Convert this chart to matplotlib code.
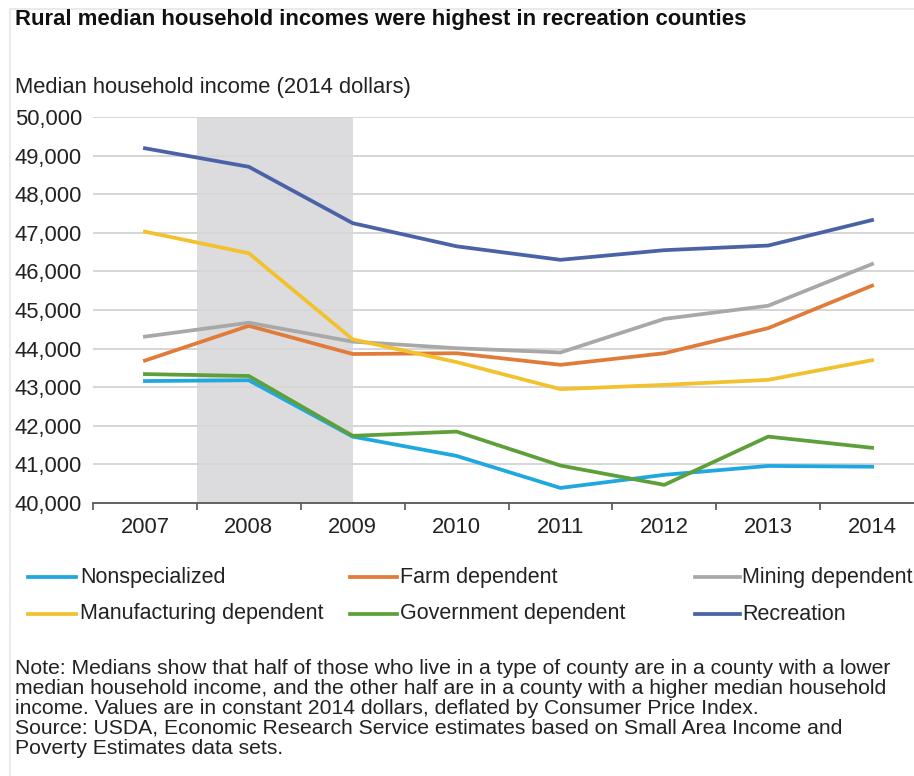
import matplotlib
matplotlib.use("Agg")
import matplotlib.pyplot as plt
from matplotlib.lines import Line2D
from matplotlib.patches import Rectangle

plt.rcParams['font.family'] = ['Liberation Sans', 'DejaVu Sans']

years = [2007, 2008, 2009, 2010, 2011, 2012, 2013, 2014]
nonspecialized = [43160, 43180, 41720, 41220, 40390, 40730, 40960, 40940]
farm = [43690, 44590, 43860, 43880, 43580, 43880, 44530, 45630]
mining = [44310, 44670, 44180, 44010, 43900, 44770, 45110, 46190]
manufacturing = [47030, 46470, 44240, 43650, 42950, 43060, 43190, 43700]
government = [43340, 43290, 41740, 41850, 40970, 40470, 41720, 41430]
recreation = [49190, 48710, 47250, 46650, 46300, 46550, 46670, 47330]

series_names = ["Nonspecialized", "Farm dependent", "Mining dependent",
                "Manufacturing dependent", "Government dependent", "Recreation"]
series_colors = ["#1fa8e0", "#e07b39", "#a8a8a8", "#f2c12e", "#5da03a", "#4a62a6"]
yticks = [40000, 41000, 42000, 43000, 44000, 45000, 46000, 47000, 48000, 49000, 50000]

recession = (2007.5, 2009.0)

title = "Rural median household incomes were highest in recreation counties"
ylabel = "Median household income (2014 dollars)"
note_lines = [
    "Note: Medians show that half of those who live in a type of county are in a county with a lower",
    "median household income, and the other half are in a county with a higher median household",
    "income. Values are in constant 2014 dollars, deflated by Consumer Price Index.",
    "Source: USDA, Economic Research Service estimates based on Small Area Income and",
    "Poverty Estimates data sets.",
]

W, H = 914, 776
FS = 15.8
fig = plt.figure(figsize=(W / 100, H / 100), dpi=100)

# faint frame around the graphic
fig.patches.append(Rectangle((10 / W, -0.1), 1.2, 1 - 9 / H + 0.1, transform=fig.transFigure,
                             fill=False, edgecolor="#e6e6e6", linewidth=1.2))

ax = fig.add_axes([93 / W, 1 - 503 / H, (924 - 93) / W, (503 - 117) / H])
ax.set_xlim(2006.5, 2014.5)
ax.set_ylim(40000, 50000)

ax.axvspan(recession[0], recession[1], color="#dcdcde", zorder=0, lw=0)
for v in yticks[1:]:
    ax.axhline(v, color="#d6d6d6", lw=1.4, zorder=1)

data = [nonspecialized, farm, mining, manufacturing, government, recreation]
for vals, col in zip(data, series_colors):
    ax.plot(years, vals, color=col, lw=2.7, zorder=3, solid_joinstyle="round")

for s in ["top", "right", "left"]:
    ax.spines[s].set_visible(False)
ax.spines["bottom"].set_color("#555555")
ax.spines["bottom"].set_linewidth(1.3)

ax.set_yticks(yticks)
ax.set_yticklabels([f"{v:,}" for v in yticks], fontsize=FS, color="#222222")
ax.tick_params(axis="y", length=0, pad=8)

ax.set_xticks([y + 0.5 for y in years[:-1]] + [2006.5])
ax.set_xticklabels([])
ax.set_xticks(years, minor=True)
ax.set_xticklabels([str(y) for y in years], minor=True, fontsize=FS, color="#222222")
ax.tick_params(axis="x", which="major", length=5, width=1.2, color="#555555", direction="out")
ax.tick_params(axis="x", which="minor", length=0, pad=10)

fig.text(15 / W, 1 - 19 / H, title, fontsize=15.9, fontweight="bold", va="center", ha="left",
         color="#111111")
fig.text(15 / W, 1 - 88 / H, ylabel, fontsize=FS, va="center", ha="left", color="#222222")

# legend, drawn by hand to keep its three columns where the original has them
leg_cols = [(28, 76, 80), (350, 397, 400), (695, 740, 742)]
leg_rows = [577, 614]
for i, (name, col) in enumerate(zip(series_names, series_colors)):
    r, c = divmod(i, 3)
    x0, x1, xt = leg_cols[c]
    yy = 1 - leg_rows[r] / H
    fig.add_artist(Line2D([x0 / W, x1 / W], [yy, yy], transform=fig.transFigure,
                          color=col, lw=2.7))
    fig.text(xt / W, yy, name, fontsize=FS - 0.3, va="center", ha="left", color="#222222")

for i, line in enumerate(note_lines):
    fig.text(15 / W, 1 - (668 + 20 * i) / H, line, fontsize=15.2, va="center", ha="left",
             color="#222222", linespacing=1.0)

fig.savefig("out.png", dpi=100)
